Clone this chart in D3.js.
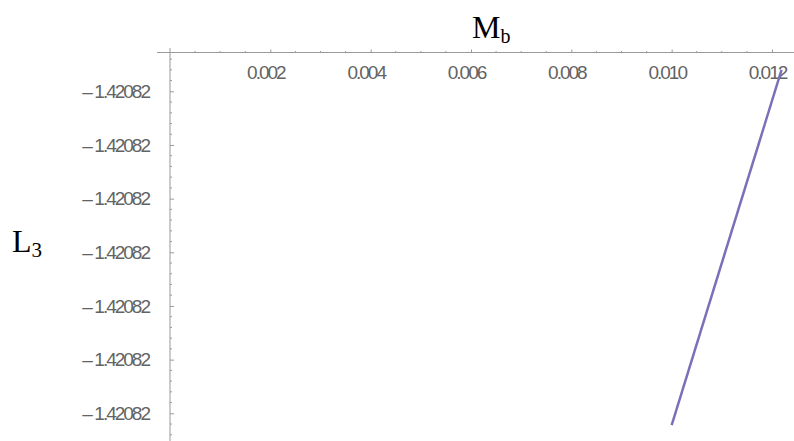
<!DOCTYPE html>
<html>
<head>
<meta charset="utf-8">
<script src="https://cdn.jsdelivr.net/npm/d3@7"></script>
<style>
  body { margin: 0; background: #fff; }
  .tick-label { font-family: "Liberation Sans", Arial, sans-serif; font-size: 19px; letter-spacing: -2px; fill: #636363; }
  .axis-title { font-family: "Liberation Serif", "Times New Roman", serif; fill: #000; }
</style>
</head>
<body>
<div class="chart"></div>
<script>
/* Global Constants
============================================= */
const SVG_WIDTH = 794;
const SVG_HEIGHT = 441;

// x ticks (M_b)
const xTicks = [0.002, 0.004, 0.006, 0.008, 0.010, 0.012];
const xTickLabels = ["0.002", "0.004", "0.006", "0.008", "0.010", "0.012"];

// y ticks (L_3): all print as -1.42082 at this precision
const yTicks = [-1.42082000, -1.42082001, -1.42082002, -1.42082003,
                -1.42082004, -1.42082005, -1.42082006];
const yTickLabel = "1.42082";

// the curve L_3(M_b)
const mbValues = [0.01000, 0.01219];
const l3Values = [-1.42082006219, -1.42081999603];

const LINE_COLOR = "#7b70b8";
const AXIS_COLOR = "#9a9a9a";

/* Global Var
============================================= */
var svg = d3.select(".chart")
    .append("svg")
    .attr("width", SVG_WIDTH)
    .attr("height", SVG_HEIGHT);

// pixel frame of the Mathematica-style axes
var origin = { x: 170, y: 52.5 };

var xScale = d3.scaleLinear()
    .domain([0, 0.012])
    .range([origin.x, 772]);

var yScale = d3.scaleLinear()
    .domain([yTicks[0], yTicks[yTicks.length - 1]])
    .range([91.3, 413.3]);

var yStep = yTicks[0] - yTicks[1];

//****************** axes *****************************//
var axesGroup = svg.append("g");

// x axis line
axesGroup.append("line")
    .attr("x1", 157).attr("x2", SVG_WIDTH)
    .attr("y1", origin.y).attr("y2", origin.y)
    .attr("stroke", AXIS_COLOR)
    .attr("stroke-width", 1);

// y axis line
axesGroup.append("line")
    .attr("x1", origin.x).attr("x2", origin.x)
    .attr("y1", 48).attr("y2", SVG_HEIGHT)
    .attr("stroke", AXIS_COLOR)
    .attr("stroke-width", 1);

// x minor ticks
var xMinor = d3.range(1, 26)
    .filter(function(i) { return i % 4 !== 0; })
    .map(function(i) { return i * 0.0005; });

axesGroup.selectAll(".x-minor")
    .data(xMinor)
    .enter()
    .append("line")
    .attr("x1", function(d) { return xScale(d); })
    .attr("x2", function(d) { return xScale(d); })
    .attr("y1", origin.y)
    .attr("y2", origin.y - 1.5)
    .attr("stroke", AXIS_COLOR);

// x major ticks
var xAxis = d3.axisTop(xScale)
    .tickValues(xTicks)
    .tickSize(3)
    .tickFormat(function(d, i) { return xTickLabels[i]; });

var xAxisGroup = axesGroup.append("g")
    .attr("transform", `translate(0, ${origin.y})`)
    .call(xAxis);

xAxisGroup.select(".domain").remove();
xAxisGroup.selectAll(".tick line").attr("stroke", AXIS_COLOR);
xAxisGroup.selectAll(".tick text")
    .attr("class", "tick-label")
    .attr("y", 26.5)
    .attr("dx", -5)
    .attr("font-family", null)
    .attr("font-size", null);

// y minor ticks
var yMinor = d3.range(-3, 33)
    .filter(function(i) { return i % 5 !== 0; })
    .map(function(i) { return yTicks[0] - i * yStep / 5; });

axesGroup.selectAll(".y-minor")
    .data(yMinor)
    .enter()
    .append("line")
    .attr("x1", origin.x)
    .attr("x2", origin.x + 2)
    .attr("y1", function(d) { return yScale(d); })
    .attr("y2", function(d) { return yScale(d); })
    .attr("stroke", AXIS_COLOR);

// y major ticks
var yAxis = d3.axisRight(yScale)
    .tickValues(yTicks)
    .tickSize(4)
    .tickFormat("");

var yAxisGroup = axesGroup.append("g")
    .attr("transform", `translate(${origin.x}, 0)`)
    .call(yAxis);

yAxisGroup.select(".domain").remove();
yAxisGroup.selectAll(".tick line").attr("stroke", AXIS_COLOR);

// label = wide minus + number
var yLabels = yAxisGroup.selectAll(".tick text")
    .text(null)
    .attr("class", "tick-label")
    .attr("x", -21)
    .attr("text-anchor", "end")
    .attr("font-family", null)
    .attr("font-size", null);

yLabels.append("tspan").text("\u2013");
yLabels.append("tspan").attr("dx", 3.5).text(yTickLabel);

//****************** curve *****************************//
var lineGen = d3.line()
    .x(function(d) { return xScale(d[0]); })
    .y(function(d) { return yScale(d[1]); });

svg.append("path")
    .datum(d3.zip(mbValues, l3Values))
    .attr("d", lineGen)
    .attr("fill", "none")
    .attr("stroke", LINE_COLOR)
    .attr("stroke-width", 2.5);

//****************** axis titles *****************************//
var xTitle = svg.append("text")
    .attr("class", "axis-title")
    .attr("x", 472)
    .attr("y", 38)
    .attr("font-size", 32)
    .text("M");
xTitle.append("tspan")
    .attr("font-size", 20)
    .attr("dy", 5)
    .text("b");

var yTitle = svg.append("text")
    .attr("class", "axis-title")
    .attr("x", 12)
    .attr("y", 252)
    .attr("font-size", 32)
    .text("L");
yTitle.append("tspan")
    .attr("font-size", 21)
    .attr("dy", 5)
    .text("3");
</script>
</body>
</html>
